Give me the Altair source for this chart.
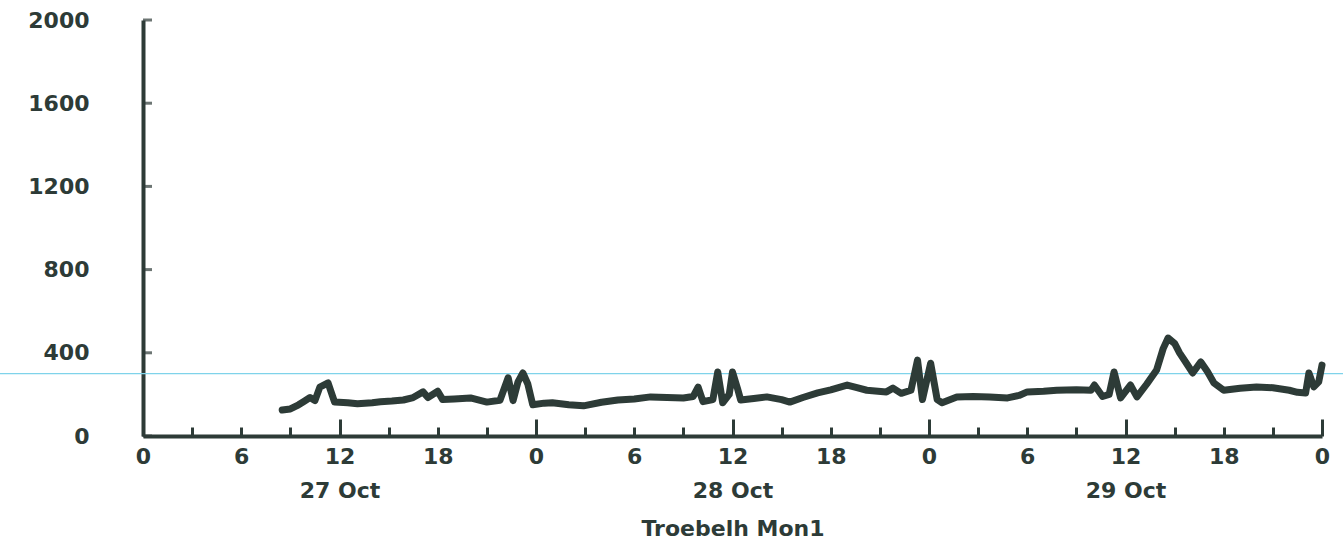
import altair as alt
import pandas as pd

# hours since 27 Oct 00:00
hours = [8.5, 9.0, 9.5, 9.8, 10.2, 10.5, 10.8, 11.3, 11.7, 12.5, 13.1, 14.0, 14.5, 15.2, 15.9,
         16.5, 17.1, 17.4, 18.0, 18.3, 19.0, 20.0, 21.0, 21.8, 22.3, 22.6, 22.9, 23.2, 23.5, 23.8,
         24.5, 25.0, 26.0, 26.9, 28.0, 29.0, 30.0, 31.0, 32.0, 33.0, 33.6, 33.9, 34.2, 34.8, 35.1,
         35.4, 35.8, 36.0, 36.3, 36.5, 37.3, 38.1, 39.0, 39.5, 40.3, 41.2, 42.0, 43.0, 43.6, 44.2,
         45.4, 45.8, 46.3, 46.9, 47.3, 47.6, 48.1, 48.5, 48.8, 49.7, 50.7, 51.7, 52.8, 53.5, 54.0,
         55.0, 55.8, 57.0, 57.9, 58.1, 58.6, 59.0, 59.3, 59.7, 60.3, 60.7, 61.3, 61.9, 62.3, 62.6,
         63.0, 63.3, 63.8, 64.1, 64.6, 65.0, 65.4, 66.0, 67.0, 68.0, 69.0, 70.0, 70.5, 71.0, 71.2,
         71.5, 71.8, 72.0]
values = [125, 130, 150, 165, 185, 170, 235, 255, 163, 160, 155, 160, 165, 168, 173,
          185, 212, 185, 215, 175, 178, 183, 163, 172, 280, 170, 260, 303, 250, 150,
          158, 160, 150, 145, 162, 173, 178, 188, 185, 183, 190, 235, 165, 175, 308,
          160, 200, 308, 230, 173, 180, 188, 175, 163, 185, 207, 222, 245, 232, 220,
          212, 230, 205, 220, 365, 175, 350, 175, 160, 188, 190, 188, 183, 195, 212,
          215, 220, 222, 220, 245, 190, 200, 308, 183, 245, 188, 250, 317, 420, 471,
          445, 400, 340, 303, 356, 310, 255, 220, 230, 236, 232, 220, 210, 207, 303,
          236, 260, 341]

x_ticks = list(range(0, 73, 3))      # every 3 h; labels on every 6 h, tall ticks every 12 h
date_pos = [12, 36, 60]
date_text = ["27 Oct", "28 Oct", "29 Oct"]
y_ticks = [0, 400, 800, 1200, 1600, 2000]
ref_value = [300]
title_text = "Troebelh Mon1"

INK = "#2d3b37"
FONT = "DejaVu Sans"
W, H = 1179, 416

df = pd.DataFrame({"h": hours, "v": values})
date_expr = " : ".join(
    [f"datum.value == {p} ? '{t}'" for p, t in zip(date_pos, date_text)]
) + " : ''"

xs = alt.Scale(domain=[0, 72], nice=False, zero=False)
ys = alt.Scale(domain=[0, 2000], nice=False)

base = alt.Chart(df)

main = base.mark_line(color=INK, strokeWidth=7, strokeJoin="round", strokeCap="round").encode(
    x=alt.X("h:Q", scale=xs, axis=alt.Axis(
        orient="bottom", values=x_ticks,
        labelExpr="datum.value % 6 == 0 ? datum.value % 24 : ''",
        ticks=True, tickColor=INK, tickWidth=3,
        tickSize=alt.ExprRef("datum.value % 12 == 0 ? -17 : -9"),
        labelPadding=alt.ExprRef("datum.value % 12 == 0 ? 27 : 19"),
        domain=True, domainColor=INK, domainWidth=4, grid=False,
        labelFont=FONT, labelFontWeight="bold", labelFontSize=22, labelColor=INK,
        title=None, labelFlush=False)),
    y=alt.Y("v:Q", scale=ys, axis=alt.Axis(
        orient="left", values=y_ticks, format="d",
        ticks=False, tickSize=0, labelPadding=54,
        domain=True, domainColor=INK, domainWidth=4, grid=False, labelFont=FONT,
        labelFontWeight="bold", labelFontSize=22, labelColor=INK, title=None)),
)

# inward-pointing y-axis ticks
yticks = alt.Chart(pd.DataFrame({"t": y_ticks})).mark_tick(
    color=INK, thickness=3, size=9, orient="horizontal").encode(
    y=alt.Y("t:Q", scale=ys, axis=None),
    x=alt.value(4.5),
)

dates = base.mark_point(opacity=0).encode(
    x=alt.X("h:Q", scale=xs, axis=alt.Axis(
        orient="bottom", values=date_pos, labelExpr=date_expr, ticks=False, tickSize=0,
        domain=False, grid=False, labelFont=FONT, labelFontWeight="bold",
        labelFontSize=22, labelColor=INK, labelPadding=44,
        title=title_text, titleFont=FONT, titleFontWeight="bold", titleFontSize=22,
        titleColor=INK, titlePadding=17)),
    y=alt.Y("v:Q", scale=ys, axis=None),
)

ref = alt.Chart(pd.DataFrame({"r": ref_value})).mark_rule(
    color="#7fd3ea", strokeWidth=1.2).encode(
    x=alt.value(-143), x2=alt.value(W + 25),
    y=alt.Y("r:Q", scale=ys, axis=None),
)

chart = alt.layer(ref, main, yticks, dates).resolve_axis(
    x="independent", y="independent"
).properties(
    width=W, height=H,
    autosize=alt.AutoSizeParams(type="none"),
    padding={"left": 143, "top": 20, "right": 21, "bottom": 110},
    background="white",
).configure_view(stroke=None)

chart.save("out.html", embed_options={"renderer": "svg", "actions": False})
